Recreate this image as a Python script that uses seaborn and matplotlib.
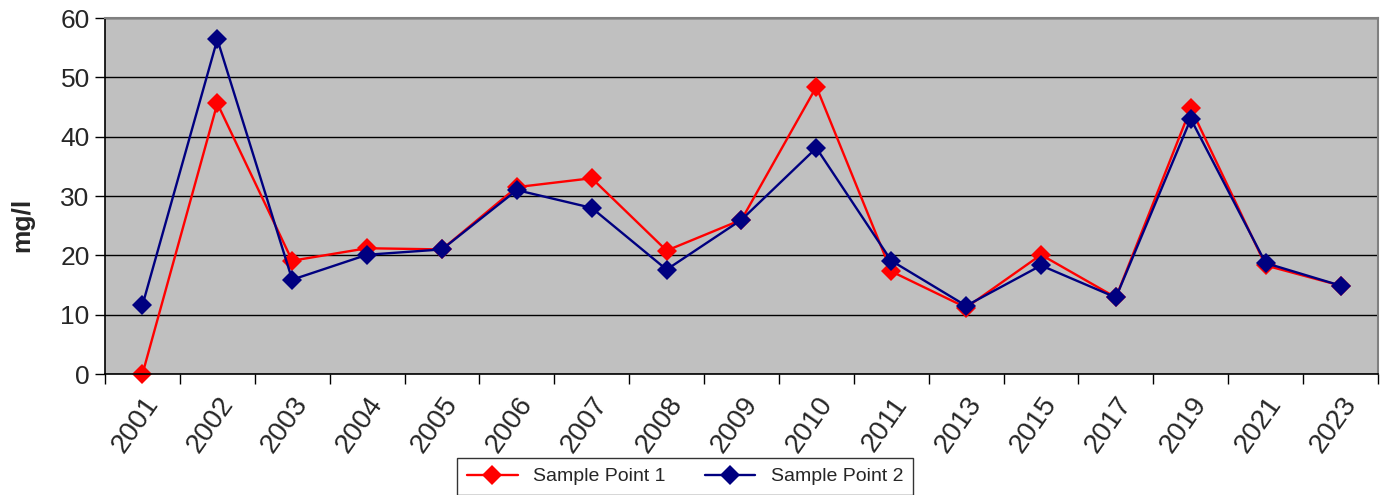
import pandas as pd
import seaborn as sns
import matplotlib.pyplot as plt
from matplotlib.ticker import FixedLocator, NullFormatter

years = ['2001', '2002', '2003', '2004', '2005', '2006', '2007', '2008', '2009',
         '2010', '2011', '2013', '2015', '2017', '2019', '2021', '2023']
sample_point_1 = [0, 45.6, 19.1, 21.2, 21.0, 31.5, 33.0, 20.8, 26.0,
                  48.4, 17.3, 11.2, 20.1, 12.9, 44.8, 18.3, 14.9]
sample_point_2 = [11.6, 56.4, 15.9, 20.1, 21.0, 31.0, 28.0, 17.6, 26.0,
                  38.1, 19.1, 11.5, 18.3, 12.9, 43.0, 18.7, 14.9]

df = pd.concat([
    pd.DataFrame({'year': years, 'value': sample_point_1, 'series': 'Sample Point 1'}),
    pd.DataFrame({'year': years, 'value': sample_point_2, 'series': 'Sample Point 2'}),
])

sns.set_style('ticks')
plt.rcParams['font.family'] = ['Liberation Sans', 'DejaVu Sans']

fig = plt.figure(figsize=(13.87, 4.95), dpi=100)
ax = fig.add_axes([0.0757, 0.2444, 0.9178, 0.7192])
ax.set_facecolor('#C0C0C0')

sns.lineplot(data=df, x='year', y='value', hue='series', style='series',
             palette={'Sample Point 1': '#FF0000', 'Sample Point 2': '#000080'},
             markers={'Sample Point 1': 'D', 'Sample Point 2': 'D'},
             dashes=False, markersize=10, markeredgewidth=0, linewidth=1.7,
             sort=False, ax=ax, legend=True)
for line in ax.lines:
    line.set_clip_on(False)

ax.set_xlim(-0.5, len(years) - 0.5)
ax.set_ylim(0, 60)
ax.set_yticks(range(0, 61, 10))
ax.yaxis.grid(True, color='black', linewidth=1)
ax.set_axisbelow(True)

# category ticks sit between the labels
ax.xaxis.set_minor_locator(FixedLocator([i - 0.5 for i in range(len(years) + 1)]))
ax.xaxis.set_minor_formatter(NullFormatter())
ax.tick_params(axis='x', which='major', length=0, pad=13)
ax.tick_params(axis='x', which='minor', length=7, width=1, color='black')
ax.tick_params(axis='y', length=7, width=1, color='black', labelsize=19, pad=4)
for lab in ax.get_xticklabels():
    lab.set_rotation(55)
    lab.set_ha('right')
    lab.set_va('top')
    lab.set_rotation_mode('anchor')
    lab.set_fontsize(20)

for s in ['left', 'bottom']:
    ax.spines[s].set_color('black')
    ax.spines[s].set_linewidth(1.2)
for s in ['top', 'right']:
    ax.spines[s].set_color('#808080')
    ax.spines[s].set_linewidth(1.5)

ax.set_xlabel('')
ax.set_ylabel('mg/l', fontsize=19, fontweight='bold')
ax.yaxis.set_label_coords(-0.0556, 0.42)

handles, labels = ax.get_legend_handles_labels()
ax.get_legend().remove()
leg = fig.legend(handles, labels, loc='upper center', bbox_to_anchor=(0.494, 0.0747),
                 ncol=2, fontsize=14, frameon=True, fancybox=False,
                 edgecolor='black', handlelength=2.6, columnspacing=2.0,
                 borderpad=0.5, borderaxespad=0)
leg.get_frame().set_linewidth(1)

fig.savefig('out.png', dpi=100)
